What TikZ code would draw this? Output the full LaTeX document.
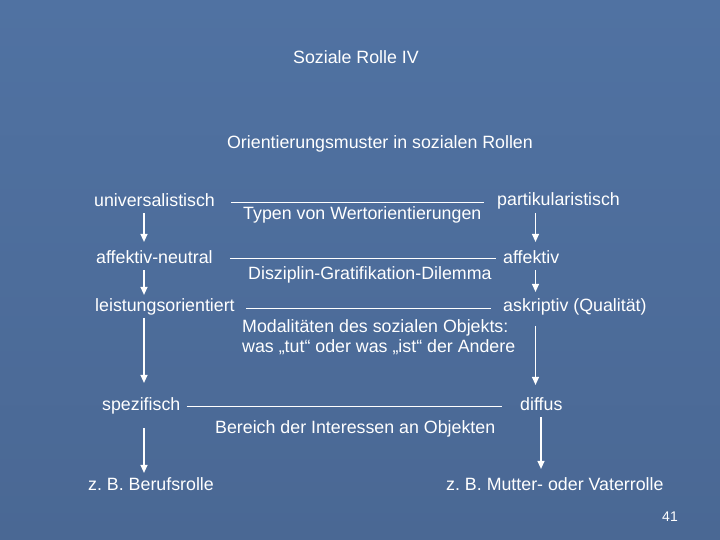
\documentclass[tikz,border=0pt]{standalone}
\usepackage{fontspec}
\setmainfont{Liberation Sans}
\usetikzlibrary{arrows.meta}
\definecolor{slidetop}{RGB}{80,114,162}
\definecolor{slidemid}{RGB}{98,128,168}
\definecolor{slidebot}{RGB}{74,104,148}
\frenchspacing
\tikzset{
  lbl/.style={anchor=base west,inner sep=0pt,text=white,font=\fontsize{17.8}{20}\selectfont},
  rule/.style={draw=white,line width=1pt},
  arr/.style={draw=white,line width=1.2pt,-{Triangle[width=7pt,length=8pt]}}
}
\begin{document}
\begin{tikzpicture}[x=1pt,y=-1pt]
\shade[top color=slidetop,middle color=slidemid,bottom color=slidebot] (0,0) rectangle (720,540);
\useasboundingbox (0,0) rectangle (720,540);
% titles
\node[lbl,anchor=base] (title) at (356,64) {Soziale Rolle IV};
\node[lbl,anchor=base] (muster) at (380,149) {Orientierungsmuster in sozialen Rollen};
% left column
\node[lbl] (uni) at (94,207) {universalistisch};
\node[lbl] (neu) at (96,263) {affektiv-neutral};
\node[lbl] (lei) at (95,311) {leistungsorientiert};
\node[lbl] (spe) at (102,410) {spezifisch};
\node[lbl] (ber) at (88,490) {z. B. Berufsrolle};
% right column
\node[lbl] (par) at (497,206) {partikularistisch};
\node[lbl] (aff) at (503,263) {affektiv};
\node[lbl] (ask) at (503,311) {askriptiv (Qualität)};
\node[lbl] (dif) at (520,410) {diffus};
\node[lbl] (mut) at (446,490) {z. B. Mutter- oder Vaterrolle};
% middle labels
\node[lbl] (typ) at (243,219) {Typen von Wertorientierungen};
\node[lbl] (dis) at (248,279) {Disziplin-Gratifikation-Dilemma};
\node[lbl] (mod1) at (242,332) {Modalitäten des sozialen Objekts:};
\node[lbl] (mod2) at (242,352) {was „tut“ oder was „ist“ der Andere};
\node[lbl] (ber2) at (215,433) {Bereich der Interessen an Objekten};
\node[lbl,anchor=base east,font=\fontsize{14}{16}\selectfont] (num) at (678,521) {41};
% lines
\draw[rule] ([xshift=16pt,yshift=-1.5pt]uni.east) -- ([xshift=-13pt,yshift=-1.5pt]uni.east -| par.west);
\draw[rule] ([xshift=17pt,yshift=-2pt]neu.east) -- ([xshift=-7pt,yshift=-2pt]neu.east -| aff.west);
\draw[rule] ([xshift=11pt,yshift=-2.5pt]lei.east) -- ([xshift=-12pt,yshift=-2.5pt]lei.east -| ask.west);
\draw[rule] ([xshift=6pt,yshift=-0.6pt]spe.east) -- ([xshift=-18pt,yshift=-0.6pt]spe.east -| dif.west);
% arrows left
\draw[arr,shorten <=6pt,shorten >=8pt] (uni.south -| 144,0) -- (neu.north -| 144,0);
\draw[arr,shorten <=7pt,shorten >=3pt] (neu.south -| 144,0) -- (lei.north -| 144,0);
\draw[arr,shorten <=3pt,shorten >=14pt] (lei.south -| 144,0) -- (spe.north -| 144,0);
\draw[arr,shorten <=14pt,shorten >=4pt] (spe.south -| 144,0) -- (ber.north -| 144,0);
% arrows right
\draw[arr,shorten <=3pt,shorten >=8pt] (par.south -| 535.5,0) -- (aff.north -| 535.5,0);
\draw[arr,shorten <=7pt,shorten >=6pt] (aff.south -| 535.5,0) -- (ask.north -| 535.5,0);
\draw[arr,shorten <=11pt,shorten >=12pt] (ask.south -| 535.5,0) -- (dif.north -| 535.5,0);
\draw[arr,shorten <=7pt,shorten >=8pt] (dif.south -| 541,0) -- (mut.north -| 541,0);
\end{tikzpicture}
\end{document}
